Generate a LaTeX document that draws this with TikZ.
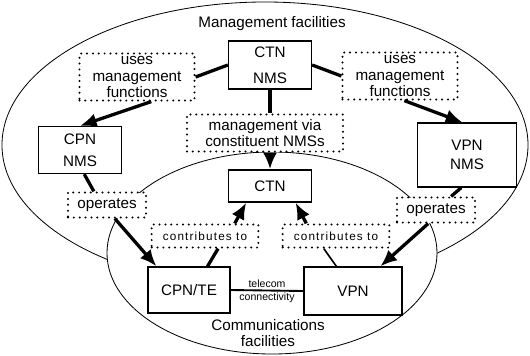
\documentclass[tikz,border=0pt]{standalone}
\usepackage{fontspec}
\setmainfont{Liberation Sans}
\newfontfamily\spaced[LetterSpace=10]{Liberation Sans}
\usetikzlibrary{arrows.meta}
\tikzset{
    boxN/.style args={#1 #2}{draw, line width=1.1pt, fill=white, align=center,
        inner sep=0pt, minimum width=#1, minimum height=#2},
    boxD/.style args={#1 #2}{draw, line width=1.9pt, dash pattern=on 0pt off 5pt,
        line cap=round, fill=white, align=center, inner sep=0pt,
        minimum width=#1, minimum height=#2},
    linkT/.style={line width=2.8pt},
    arrT/.style={line width=2.8pt, -{Latex[length=5mm,width=4.2mm]}},
    rim/.style={line width=0.7pt}
}

\begin{document}
\begin{tikzpicture}[x=0.03cm, y=-0.03cm, font=\fontsize{13pt}{15pt}\selectfont]
    \useasboundingbox (0,0) rectangle (530,355);
    % facilities
    \draw[rim] (265,145) ellipse [x radius=7.89cm, y radius=4.29cm];
    \draw[rim, fill=white] (272,253) ellipse [x radius=4.95cm, y radius=3.03cm];
    \node (mgmtfac) at (272,24) {Management facilities};
    \node[align=center] (comfac) at (268,333) {Communications\\[-1pt]facilities};
    % management systems
    \node[boxN={2.49cm 1.44cm}] (ctnnms) at (270,65) {CTN\\[7pt]NMS};
    \node[boxN={2.49cm 1.41cm}] (cpnnms) at (80,150) {CPN\\[4pt]NMS};
    \node[boxN={2.97cm 1.92cm}] (vpnnms) at (467,155) {VPN\\[1pt]NMS};
    \node[boxD={3.45cm 1.41cm}] (usesL) at (137,77) {uses\\[-1pt]management\\[-1pt]functions};
    \node[boxD={3.45cm 1.41cm}] (usesR) at (400,76) {uses\\[-1pt]management\\[-1pt]functions};
    \node[boxD={4.68cm 1.11cm}] (mgmtvia) at (265,133) {management via\\[-1pt]constituent NMSs};
    % communications
    \node[boxN={2.49cm 0.96cm}] (ctn) at (270,186) {CTN};
    \node[boxN={2.46cm 1.38cm}] (cpnte) at (189,290) {CPN/TE};
    \node[boxN={2.94cm 1.44cm}] (vpn) at (353,291) {VPN};
    \node[boxD={2.34cm 0.75cm}] (opL) at (107,205) {operates};
    \node[boxD={2.34cm 0.75cm}] (opR) at (436,210) {operates};
    \node[boxD={3.2cm 0.69cm}, font=\spaced\fontsize{10pt}{12pt}\selectfont] (conL) at (205,236) {contributes to};
    \node[boxD={3.2cm 0.69cm}, font=\spaced\fontsize{10pt}{12pt}\selectfont] (conR) at (336,236) {contributes to};
    % links
    \draw[linkT] (usesL.east) -- (ctnnms.west);
    \draw[arrT] (usesL.-60) -- (cpnnms.north);
    \draw[linkT] (ctnnms.east) -- (usesR.west);
    \draw[arrT] (usesR.-80) -- (vpnnms.98);
    \draw[linkT] (ctnnms.south) -- (ctnnms.south |- mgmtvia.north);
    \draw[arrT] (ctn.north |- mgmtvia.south) -- (ctn.north);
    \draw[linkT] (cpnnms.-80) -- (opL.134);
    \draw[arrT] (opL.-60) -- (cpnte.144);
    \draw[linkT] (vpnnms.-100) -- (opR.42);
    \draw[arrT] (opR.-120) -- (vpn.42);
    \draw[linkT] (cpnte.52) -- (conL.-44);
    \draw[arrT] (conL.23) -- (ctn.-145);
    \draw[line width=1.4pt] (vpn.124) -- (conR.-134);
    \draw[arrT] (conR.157) -- (ctn.-33);
    \draw[line width=1.6pt] (cpnte.east) -- (vpn.west)
        node[midway, above, inner sep=1.5pt, font=\fontsize{9pt}{10pt}\selectfont] (telecom) {telecom}
        node[midway, below, inner sep=1.5pt, font=\fontsize{9pt}{10pt}\selectfont] (connect) {connectivity};
\end{tikzpicture}
\end{document}
